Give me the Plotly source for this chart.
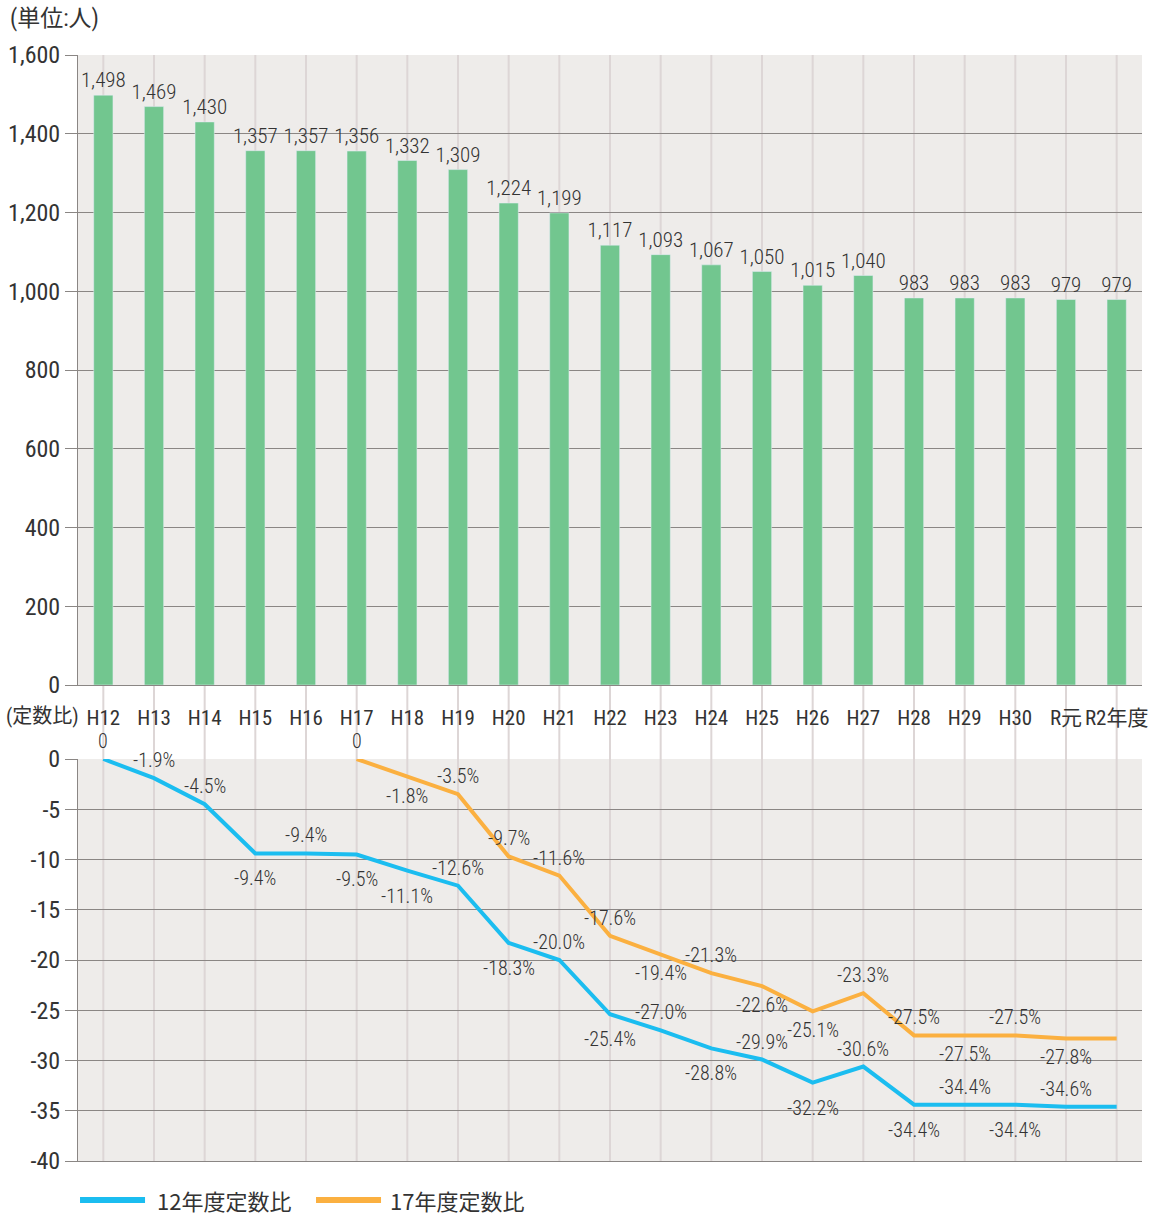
import plotly.graph_objects as go
from plotly.subplots import make_subplots

# categories (fiscal years)
years = ["H12", "H13", "H14", "H15", "H16", "H17", "H18", "H19", "H20", "H21", "H22",
         "H23", "H24", "H25", "H26", "H27", "H28", "H29", "H30", "R元", "R2年度"]

# staff numbers (persons)
staff = [1498, 1469, 1430, 1357, 1357, 1356, 1332, 1309, 1224, 1199, 1117,
         1093, 1067, 1050, 1015, 1040, 983, 983, 983, 979, 979]

# ratio vs H12 quota (%)
ratio12 = [0, -1.9, -4.5, -9.4, -9.4, -9.5, -11.1, -12.6, -18.3, -20.0, -25.4,
           -27.0, -28.8, -29.9, -32.2, -30.6, -34.4, -34.4, -34.4, -34.6, -34.6]
label12 = ["0", "-1.9%", "-4.5%", "-9.4%", "-9.4%", "-9.5%", "-11.1%", "-12.6%", "-18.3%",
           "-20.0%", "-25.4%", "-27.0%", "-28.8%", "-29.9%", "-32.2%", "-30.6%", "-34.4%",
           "-34.4%", "-34.4%", "-34.6%", ""]
side12 = ["top", "top", "top", "bottom", "top", "bottom", "bottom", "top", "bottom", "top",
          "bottom", "top", "bottom", "top", "bottom", "top", "bottom", "top", "bottom", "top", "top"]

# ratio vs H17 quota (%), starts at H17
years17 = years[5:]
ratio17 = [0, -1.8, -3.5, -9.7, -11.6, -17.6, -19.4, -21.3, -22.6, -25.1, -23.3,
           -27.5, -27.5, -27.5, -27.8, -27.8]
label17 = ["0", "-1.8%", "-3.5%", "-9.7%", "-11.6%", "-17.6%", "-19.4%", "-21.3%", "-22.6%",
           "-25.1%", "-23.3%", "-27.5%", "-27.5%", "-27.5%", "-27.8%", ""]
side17 = ["top", "bottom", "top", "top", "top", "top", "bottom", "top", "bottom", "bottom",
          "top", "top", "bottom", "top", "bottom", "top"]

ticks_bottom = [0, -5, -10, -15, -20, -25, -30, -35, -40]

FONT = "Roboto Condensed, Noto Sans CJK JP, sans-serif"
CJK = "Noto Sans CJK JP, sans-serif"
TXT = "#333333"
BG = "#eeecea"
GRID = "#8a8684"
VGRID = "#ddd6d6"
BLUE = "#1bbdf0"
ORANGE = "#fbb040"

fig = make_subplots(rows=2, cols=1, shared_xaxes=False, vertical_spacing=0.0)

fig.add_trace(go.Bar(x=years, y=staff, marker_color="#72c68f", width=0.38,
                     text=[f"{v:,}" for v in staff], textposition="outside",
                     constraintext="none", cliponaxis=False,
                     textfont=dict(size=21, color=TXT, family=FONT, weight=300),
                     showlegend=False), row=1, col=1)

fig.add_trace(go.Scatter(x=years, y=ratio12, mode="lines", name="12年度定数比",
                         line=dict(color=BLUE, width=4), showlegend=False), row=2, col=1)
fig.add_trace(go.Scatter(x=years17, y=ratio17, mode="lines", name="17年度定数比",
                         line=dict(color=ORANGE, width=4), showlegend=False), row=2, col=1)

# point labels, above or below the line
for xs, ys, labels, sides, down in [(years, ratio12, label12, side12, -25),
                                     (years17, ratio17, label17, side17, -19)]:
    for x, y, t, s in zip(xs, ys, labels, sides):
        if not t:
            continue
        fig.add_annotation(x=x, y=y, xref="x2", yref="y2", text=t, showarrow=False,
                           yanchor="middle", yshift=18 if s == "top" else down,
                           font=dict(size=20, color=TXT, family=FONT, weight=300))

plot_h = 1215 - 55 - 54
top_dom0 = (plot_h - 630) / plot_h
fig.update_layout(
    width=1166, height=1215,
    margin=dict(l=78, r=24, t=55, b=54),
    paper_bgcolor="white", plot_bgcolor=BG,
    font=dict(family=FONT, color=TXT, size=20),
    yaxis=dict(domain=[top_dom0, 1]),
    yaxis2=dict(domain=[0, 402 / plot_h]),
)

fig.update_xaxes(categoryorder="array", categoryarray=years, showgrid=False,
                 range=[-0.5, len(years) - 0.5], automargin=False, tickangle=0)
fig.update_xaxes(row=1, col=1, ticks="", ticklabelstandoff=14,
                 tickfont=dict(size=21, color=TXT, family=FONT),
                 showline=True, linecolor=GRID, linewidth=1)
fig.update_xaxes(row=2, col=1, showticklabels=False, showline=True, linecolor=GRID, linewidth=1)

fig.update_yaxes(row=1, col=1, range=[0, 1600], dtick=200, tickformat=",", automargin=False,
                 showgrid=True, gridcolor=GRID, gridwidth=1, zeroline=False,
                 ticks="outside", ticklen=12, tickcolor=GRID, showline=True,
                 linecolor=GRID, linewidth=1,
                 tickfont=dict(size=24, color=TXT, family=FONT))
fig.update_yaxes(row=2, col=1, range=[-40, 0], tickvals=ticks_bottom, automargin=False,
                 ticktext=[str(v) for v in ticks_bottom],
                 showgrid=True, gridcolor=GRID, gridwidth=1, zeroline=False,
                 ticks="outside", ticklen=12, tickcolor=GRID, showline=True,
                 linecolor=GRID, linewidth=1,
                 tickfont=dict(size=24, color=TXT, family=FONT))

# vertical category lines through both panels
for yr in years:
    fig.add_shape(type="line", xref="x", yref="paper", x0=yr, x1=yr, y0=0, y1=1,
                  line=dict(color=VGRID, width=2), layer="below")

fig.add_annotation(text="(単位:人)", xref="paper", yref="paper", x=-0.0658, y=1.0,
                   yshift=37, xanchor="left", yanchor="middle", showarrow=False,
                   font=dict(size=23, color=TXT, family=FONT))
fig.add_annotation(text="(定数比)", xref="paper", yref="paper", x=-0.0695,
                   y=top_dom0, yshift=-31, xanchor="left", yanchor="middle",
                   showarrow=False, font=dict(size=20, color=TXT, family=FONT))

# legend drawn by hand (long line swatches)
leg = [("12年度定数比", BLUE, 0.0019, 0.063, 0.0724),
       ("17年度定数比", ORANGE, 0.2237, 0.2848, 0.2914)]
for name, col, x0, x1, xt in leg:
    fig.add_shape(type="line", xref="paper", yref="paper", x0=x0, x1=x1,
                  y0=-0.0353, y1=-0.0353, line=dict(color=col, width=6))
    fig.add_annotation(text=name, xref="paper", yref="paper", x=xt, y=-0.0353,
                       xanchor="left", yanchor="middle", showarrow=False,
                       font=dict(size=22, color=TXT, family=CJK))

# drop the default page margin so the figure fills the window
fig.write_html("out.html", config={"displayModeBar": False},
               post_script="document.body.style.margin='0';")
